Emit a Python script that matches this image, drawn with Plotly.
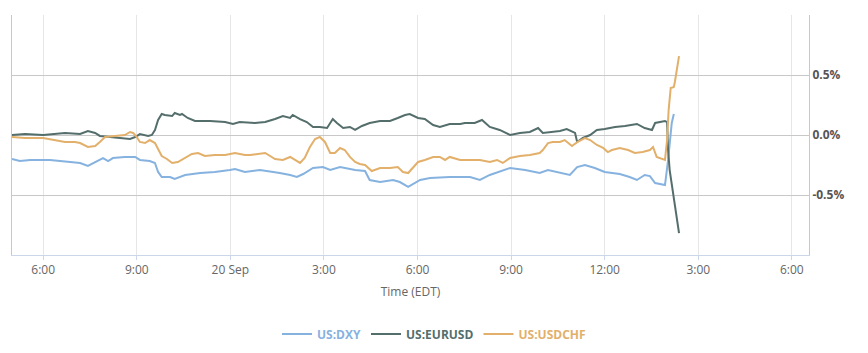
import pandas as pd
import plotly.graph_objects as go

# Start of window: 19 Sep 17:00 EDT; times are minutes after that
base_time = "2023-09-19 17:00"

dxy_min = [0, 15, 35, 73, 112, 131, 146, 160, 175, 185,
           194, 217, 237, 246, 265, 275, 281, 288, 304, 313,
           333, 362, 390, 419, 429, 448, 477, 515, 535, 548,
           560, 579, 598, 612, 631, 660, 679, 688, 708, 733,
           746, 762, 771, 785, 804, 842, 881, 900, 919, 944,
           958, 987, 1015, 1031, 1054, 1073, 1087, 1102, 1121, 1140,
           1169, 1188, 1202, 1217, 1227, 1237, 1256, 1262, 1269, 1273]
dxy_val = [-0.200, -0.217, -0.208, -0.208, -0.225, -0.233, -0.258, -0.225, -0.192, -0.217,
           -0.192, -0.183, -0.183, -0.208, -0.217, -0.233, -0.308, -0.350, -0.350, -0.367,
           -0.333, -0.317, -0.308, -0.292, -0.283, -0.308, -0.292, -0.317, -0.333, -0.350,
           -0.325, -0.275, -0.267, -0.292, -0.267, -0.292, -0.300, -0.375, -0.392, -0.375,
           -0.392, -0.433, -0.408, -0.375, -0.358, -0.350, -0.350, -0.375, -0.333, -0.292,
           -0.275, -0.292, -0.317, -0.292, -0.317, -0.333, -0.267, -0.250, -0.275, -0.308,
           -0.325, -0.350, -0.375, -0.333, -0.342, -0.400, -0.417, -0.208, 0.100, 0.175]

eur_min = [0, 25, 60, 83, 102, 131, 146, 160, 169, 188,
           208, 227, 237, 246, 262, 269, 275, 281, 288, 294,
           308, 313, 323, 327, 338, 352, 381, 410, 425, 438,
           467, 487, 506, 521, 535, 540, 554, 567, 579, 592,
           606, 617, 625, 637, 650, 660, 673, 688, 708, 727,
           742, 756, 765, 781, 794, 810, 823, 842, 862, 871,
           890, 904, 919, 938, 958, 977, 996, 1012, 1021, 1035,
           1054, 1067, 1083, 1087, 1098, 1112, 1125, 1140, 1160, 1179,
           1202, 1217, 1231, 1237, 1256, 1260, 1262, 1265, 1269, 1273,
           1277, 1283]
eur_val = [0.000, 0.008, 0.000, 0.008, 0.017, 0.008, 0.033, 0.017, -0.008, -0.017,
           -0.025, -0.033, -0.017, 0.008, -0.008, 0.000, 0.042, 0.125, 0.175, 0.167,
           0.158, 0.183, 0.167, 0.175, 0.142, 0.117, 0.117, 0.108, 0.092, 0.108,
           0.100, 0.108, 0.133, 0.158, 0.142, 0.167, 0.133, 0.108, 0.067, 0.067,
           0.058, 0.133, 0.100, 0.058, 0.067, 0.042, 0.075, 0.100, 0.117, 0.117,
           0.142, 0.167, 0.175, 0.142, 0.133, 0.083, 0.067, 0.092, 0.092, 0.100,
           0.100, 0.125, 0.067, 0.042, 0.000, 0.017, 0.025, 0.058, 0.017, 0.025,
           0.033, 0.050, 0.017, -0.058, -0.025, 0.000, 0.042, 0.050, 0.067, 0.075,
           0.092, 0.058, 0.042, 0.100, 0.117, 0.108, -0.125, -0.292, -0.400, -0.517,
           -0.625, -0.817]

chf_min = [0, 25, 60, 83, 102, 121, 131, 146, 160, 169,
           179, 198, 217, 227, 233, 240, 246, 256, 265, 275,
           281, 288, 298, 308, 319, 333, 346, 358, 371, 390,
           410, 429, 448, 458, 477, 487, 506, 521, 535, 548,
           554, 563, 573, 583, 592, 602, 612, 621, 631, 640,
           650, 660, 669, 679, 692, 708, 727, 742, 752, 762,
           771, 781, 794, 810, 823, 833, 842, 862, 881, 900,
           919, 933, 944, 958, 977, 996, 1015, 1021, 1031, 1040,
           1054, 1063, 1077, 1088, 1102, 1112, 1125, 1137, 1146, 1154,
           1169, 1185, 1198, 1213, 1227, 1233, 1240, 1256, 1260, 1263,
           1267, 1273, 1275, 1279, 1283]
chf_val = [-0.017, -0.025, -0.025, -0.042, -0.058, -0.058, -0.067, -0.100, -0.092, -0.058,
           -0.017, -0.008, 0.000, 0.025, 0.017, -0.017, -0.058, -0.067, -0.042, -0.067,
           -0.117, -0.175, -0.200, -0.233, -0.225, -0.192, -0.158, -0.150, -0.175, -0.167,
           -0.167, -0.150, -0.167, -0.167, -0.158, -0.150, -0.200, -0.208, -0.183, -0.217,
           -0.233, -0.192, -0.100, -0.033, -0.017, -0.058, -0.150, -0.150, -0.108, -0.125,
           -0.183, -0.225, -0.242, -0.250, -0.300, -0.275, -0.275, -0.267, -0.308, -0.317,
           -0.275, -0.225, -0.208, -0.183, -0.183, -0.208, -0.183, -0.208, -0.208, -0.208,
           -0.225, -0.208, -0.233, -0.192, -0.175, -0.167, -0.150, -0.125, -0.067, -0.058,
           -0.058, -0.042, -0.092, -0.058, -0.025, -0.042, -0.083, -0.108, -0.142, -0.125,
           -0.108, -0.125, -0.150, -0.142, -0.125, -0.100, -0.183, -0.208, -0.042, 0.208,
           0.392, 0.400, 0.442, 0.558, 0.658]

x_range = ["2023-09-19 17:00", "2023-09-20 18:33"]
tick_times = ["2023-09-19 18:00", "2023-09-19 21:00", "2023-09-20 00:00",
              "2023-09-20 03:00", "2023-09-20 06:00", "2023-09-20 09:00",
              "2023-09-20 12:00", "2023-09-20 15:00", "2023-09-20 18:00"]
tick_labels = ["6:00", "9:00", "20 Sep", "3:00", "6:00", "9:00", "12:00", "3:00", "6:00"]
y_ticks = [-1.0, -0.5, 0.0, 0.5, 1.0]
y_labels = ["", "-0.5%", "0.0%", "0.5%", ""]

series = [
    ("US:DXY", dxy_min, dxy_val, "#86b2e0"),
    ("US:EURUSD", eur_min, eur_val, "#546e6c"),
    ("US:USDCHF", chf_min, chf_val, "#e2b06a"),
]

t0 = pd.Timestamp(base_time)
fig = go.Figure()
for name, mins, vals, col in series:
    assert len(mins) == len(vals), name
    times = t0 + pd.to_timedelta(mins, unit="min")
    fig.add_trace(go.Scatter(
        x=times, y=vals, mode="lines", name=f"<b><span style='color:{col}'>{name}</span></b>",
        line=dict(color=col, width=2),
    ))

font_family = "Open Sans, Noto Sans, DejaVu Sans, sans-serif"
fig.update_layout(
    width=868, height=353,
    margin=dict(l=12, r=59, t=15, b=98, autoexpand=False),
    paper_bgcolor="white", plot_bgcolor="white",
    font=dict(family=font_family, size=12, color="#666666"),
    showlegend=True,
    legend=dict(orientation="h", x=0.5, xref="container", xanchor="center",
                y=0.054, yref="container", yanchor="middle",
                font=dict(size=12), itemwidth=30, tracegroupgap=0),
    xaxis=dict(
        type="date", range=x_range, automargin=False,
        tickmode="array", tickvals=tick_times, ticktext=tick_labels,
        showgrid=True, gridcolor="#e6e6e6", gridwidth=1,
        showline=True, linecolor="#ccd6eb", linewidth=1,
        ticks="outside", ticklen=4, tickcolor="#ccd6eb",
        tickfont=dict(size=12, color="#666666"),
        title=dict(text="Time (EDT)", font=dict(size=12, color="#666666"), standoff=10),
        zeroline=False,
    ),
    yaxis=dict(
        side="right", range=[-1.0, 1.0], automargin=False,
        tickmode="array", tickvals=y_ticks, ticktext=y_labels,
        showgrid=True, gridcolor="#c8c8c8", gridwidth=1,
        showline=True, mirror=True, linecolor="#c8c8c8", linewidth=1,
        tickfont=dict(size=12, color="#555555", weight="bold"),
        zeroline=False, ticks="",
    ),
)

fig.write_html("out.html")
